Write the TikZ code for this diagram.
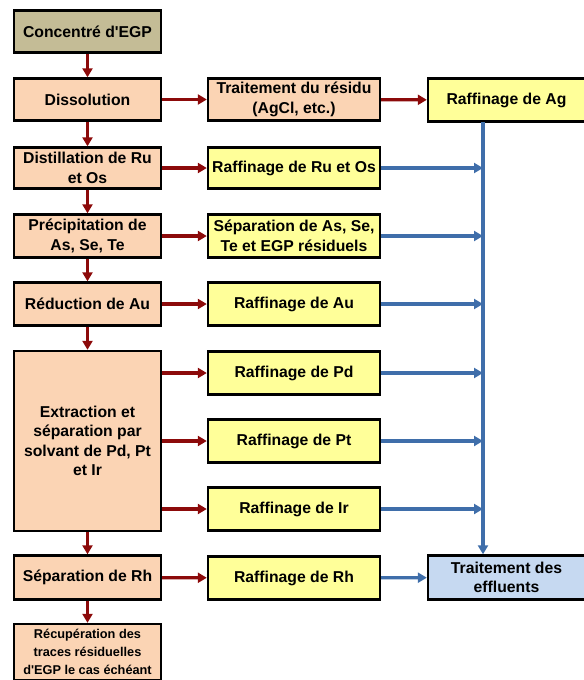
\documentclass[tikz,border=0pt]{standalone}
\usepackage{fontspec}
\setmainfont{Liberation Sans}
\usetikzlibrary{arrows.meta}

\definecolor{tan}{HTML}{C4BC96}
\definecolor{peach}{HTML}{FBD4B4}
\definecolor{pale}{HTML}{FFFF99}
\definecolor{sky}{HTML}{C6D9F1}
\definecolor{darkred}{HTML}{8C0A0A}
\definecolor{steel}{HTML}{3F6EAA}

\tikzset{
  box/.style={draw=black, line width=2.4bp, align=center, inner sep=1bp,
    font=\bfseries\fontsize{15.8}{19.5}\selectfont},
  leftbox/.style={box, fill=peach, minimum width=147bp},
  midbox/.style={box, fill=pale, minimum width=172bp},
  rightbox/.style={box, minimum width=157bp},
  redarrow/.style={draw=darkred, line width=3.2bp, -{Triangle[length=9bp,width=10bp]}},
  bluearrow/.style={draw=steel, line width=3.2bp, -{Triangle[length=9bp,width=10bp]}},
}

\begin{document}
\begin{tikzpicture}[x=1bp,y=-1bp]
\useasboundingbox (0,0) rectangle (584,680);

% left column
\node[leftbox, fill=tan, minimum height=42bp] (conc) at (87.5,31.5) {Concentr\'e d\textquotesingle EGP};
\node[leftbox, minimum height=42bp] (diss) at (87.5,99.5) {Dissolution};
\node[leftbox, minimum height=41bp] (dist) at (87.5,168) {Distillation de Ru\\et Os};
\node[leftbox, minimum height=43bp] (prec) at (87.5,236) {Pr\'ecipitation de\\As, Se, Te};
\node[leftbox, minimum height=43bp] (red) at (87.5,304) {R\'eduction de Au};
\node[leftbox, minimum height=180bp] (extr) at (87.5,441) {Extraction et\\s\'eparation par\\solvant de Pd, Pt\\et Ir};
\node[leftbox, minimum height=44bp] (seprh) at (87.5,577.5) {S\'eparation de Rh};
\node[leftbox, minimum height=56bp, font=\bfseries\fontsize{12.8}{18}\selectfont] (recup) at (87.5,652) {R\'ecup\'eration des\\traces r\'esiduelles\\d\textquotesingle EGP le cas \'ech\'eant};

% middle column
\node[midbox, fill=peach, minimum height=42bp] (resid) at (294,99.5) {Traitement du r\'esidu\\(AgCl, etc.)};
\node[midbox, minimum height=41bp] (rru) at (294,168) {Raffinage de Ru et Os};
\node[midbox, minimum height=43bp] (sepas) at (294,236) {S\'eparation de As, Se,\\Te et EGP r\'esiduels};
\node[midbox, minimum height=43bp] (rau) at (294,304) {Raffinage de Au};
\node[midbox, minimum height=43bp] (rpd) at (294,373) {Raffinage de Pd};
\node[midbox, minimum height=43bp] (rpt) at (294,441) {Raffinage de Pt};
\node[midbox, minimum height=43bp] (rir) at (294,509) {Raffinage de Ir};
\node[midbox, minimum height=43bp] (rrh) at (294,578) {Raffinage de Rh};

% right column
\node[rightbox, fill=pale, minimum height=43bp] (ag) at (506.5,100) {Raffinage de Ag};
\node[rightbox, fill=sky, minimum height=44bp] (eff) at (506.5,577.5) {Traitement des\\effluents};
\coordinate (trunk) at (483,122);

% red flow
\draw[redarrow] (conc) -- (diss);
\draw[redarrow] (diss) -- (dist);
\draw[redarrow] (dist) -- (prec);
\draw[redarrow] (prec) -- (red);
\draw[redarrow] (red) -- (extr);
\draw[redarrow] (extr) -- (seprh);
\draw[redarrow] (seprh) -- (recup);
\draw[redarrow] (diss) -- (resid);
\draw[redarrow] (resid) -- (ag);
\draw[redarrow] (dist) -- (rru);
\draw[redarrow] (prec) -- (sepas);
\draw[redarrow] (red) -- (rau);
\draw[redarrow] (rpd.west -| extr.east) -- (rpd);
\draw[redarrow] (rpt.west -| extr.east) -- (rpt);
\draw[redarrow] (rir.west -| extr.east) -- (rir);
\draw[redarrow] (seprh) -- (rrh);

% blue flow
\draw[bluearrow] (trunk) -- (trunk |- eff.north);
\draw[bluearrow] (rru) -- (rru.east -| trunk);
\draw[bluearrow] (sepas) -- (sepas.east -| trunk);
\draw[bluearrow] (rau) -- (rau.east -| trunk);
\draw[bluearrow] (rpd) -- (rpd.east -| trunk);
\draw[bluearrow] (rpt) -- (rpt.east -| trunk);
\draw[bluearrow] (rir) -- (rir.east -| trunk);
\draw[bluearrow] (rrh) -- (eff);
\end{tikzpicture}
\end{document}
